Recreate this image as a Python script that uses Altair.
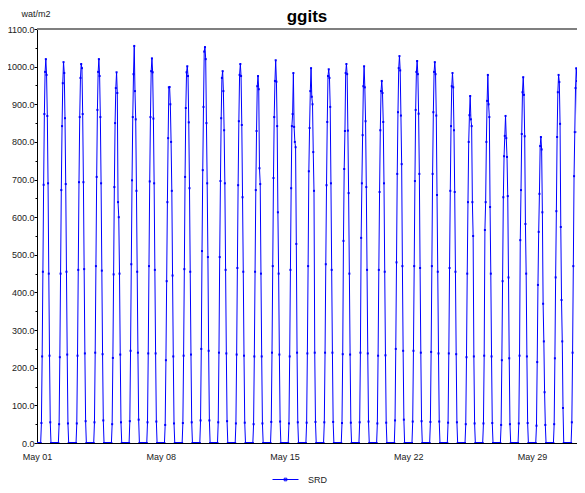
import altair as alt
import pandas as pd

# SRD (W/m2): hourly values 06:00..18:00 for each day May 1..31
# (night hours are 0)
day_values = [
    [53, 230, 455, 686, 874, 986, 1020, 978, 869, 690, 450, 232, 55],
    [50, 228, 450, 672, 842, 956, 1012, 983, 863, 688, 455, 235, 52],
    [52, 232, 460, 693, 866, 970, 1007, 996, 874, 693, 462, 238, 58],
    [55, 240, 470, 707, 885, 986, 1020, 975, 866, 690, 458, 236, 60],
    [50, 226, 448, 680, 850, 943, 985, 930, 640, 600, 450, 235, 55],
    [58, 245, 475, 698, 866, 980, 1055, 935, 860, 670, 455, 240, 62],
    [55, 238, 470, 695, 866, 988, 1022, 985, 862, 690, 460, 238, 57],
    [48, 220, 430, 640, 810, 945, 946, 900, 800, 670, 445, 230, 52],
    [53, 232, 462, 707, 890, 985, 1001, 975, 852, 677, 455, 235, 55],
    [60, 250, 510, 725, 893, 1040, 1052, 1020, 850, 690, 494, 245, 60],
    [55, 240, 494, 696, 863, 970, 988, 935, 831, 690, 460, 238, 58],
    [52, 235, 465, 685, 855, 978, 1007, 975, 845, 653, 455, 232, 54],
    [50, 230, 455, 672, 829, 948, 975, 940, 730, 688, 450, 230, 52],
    [56, 240, 470, 704, 866, 962, 1017, 960, 842, 613, 450, 235, 57],
    [52, 230, 460, 677, 842, 874, 983, 840, 800, 786, 529, 240, 55],
    [54, 238, 470, 722, 837, 935, 996, 920, 900, 773, 670, 240, 56],
    [55, 240, 475, 685, 853, 975, 993, 970, 893, 690, 460, 240, 56],
    [53, 236, 537, 728, 829, 983, 1007, 980, 830, 664, 450, 235, 54],
    [55, 240, 545, 690, 818, 948, 1001, 945, 855, 680, 460, 238, 57],
    [52, 232, 460, 667, 831, 935, 962, 930, 853, 690, 455, 233, 54],
    [60, 250, 480, 715, 879, 996, 1028, 990, 870, 741, 470, 245, 62],
    [57, 245, 470, 696, 885, 986, 1015, 980, 875, 715, 465, 240, 58],
    [56, 242, 470, 715, 879, 986, 1012, 980, 870, 659, 455, 238, 57],
    [54, 238, 465, 670, 842, 948, 983, 945, 831, 667, 455, 236, 55],
    [50, 228, 450, 640, 800, 871, 922, 860, 842, 640, 550, 230, 52],
    [52, 232, 566, 640, 800, 909, 978, 900, 866, 627, 450, 230, 53],
    [48, 220, 430, 653, 762, 816, 869, 810, 760, 656, 440, 225, 50],
    [52, 232, 539, 672, 821, 932, 972, 925, 815, 582, 450, 230, 53],
    [46, 215, 420, 561, 662, 789, 813, 780, 613, 370, 270, 135, 48],
    [50, 225, 440, 616, 813, 932, 978, 959, 848, 574, 380, 270, 93],
    [55, 240, 470, 709, 826, 943, 996, 962, 826, 675, 460, 240, 58],
]
first_daylight_hour = 6
series_name = "SRD"
y_tick_values = [0, 50, 100, 150, 200, 250, 300, 350, 400, 450, 500, 550,
                 600, 650, 700, 750, 800, 850, 900, 950, 1000, 1050, 1100]
x_label_days = [1, 8, 15, 22, 29]

rows = []
for d, vals in enumerate(day_values):
    for h in range(24):
        i = h - first_daylight_hour
        v = vals[i] if 0 <= i < len(vals) else 0
        rows.append({"time": f"2015-05-{d + 1:02d}T{h:02d}:00:00", "srd": v, "series": series_name})
df = pd.DataFrame(rows)

FONT = "Liberation Sans"

x_enc = alt.X(
    "time:T",
    scale=alt.Scale(domain=[alt.DateTime(year=2015, month=5, date=1, hours=0),
                            alt.DateTime(year=2015, month=5, date=31, hours=13)]),
    axis=alt.Axis(
        values=[alt.DateTime(year=2015, month=5, date=d) for d in x_label_days],
        format="%b %d", title=None, ticks=False, grid=False, labelAngle=0,
        labelFont=FONT, labelFontSize=9, labelColor="#222222", labelPadding=9,
        domainColor="#000000", domainWidth=1, labelFlush=False, labelOverlap=False,
    ),
)
y_enc = alt.Y(
    "srd:Q",
    scale=alt.Scale(domain=[0, 1100], nice=False),
    axis=alt.Axis(
        values=y_tick_values,
        labelExpr="datum.value % 100 === 0 ? format(datum.value, '.1f') : ''",
        tickSize={"condition": {"test": "datum.value % 100 === 0", "value": 3}, "value": 2},
        tickColor="#000000", domainColor="#000000", grid=False,
        labelFont=FONT, labelFontSize=9, labelColor="#222222", labelPadding=0,
        labelOverlap=False, labelFlush=False,
        title="wat/m2", titleAngle=0, titleAlign="left", titleBaseline="alphabetic",
        titleX=-16, titleY=-13, titleFont=FONT, titleFontSize=9, titleFontWeight="normal",
        titleColor="#222222",
    ),
)

legend = alt.Legend(
    title=None, orient="none", legendX=235, legendY=437,
    symbolType="M-1,0H1M-0.1,-0.1H0.1V0.1H-0.1Z", symbolSize=676, symbolStrokeWidth=1,
    labelFont=FONT, labelFontSize=9, labelColor="#222222", labelOffset=9, padding=0,
)

base = alt.Chart(df).encode(x=x_enc, y=y_enc)

line = base.mark_line(strokeWidth=1, clip=True).encode(
    color=alt.Color("series:N", scale=alt.Scale(domain=[series_name], range=["#0000ff"]), legend=legend),
)
points = base.mark_point(shape="square", filled=True, size=4, opacity=1, clip=True).encode(
    color=alt.value("#0000ff"),
)
# grey frame line along the top edge of the plot
top_rule = alt.Chart(df).mark_rule(color="#7f7f7f", strokeWidth=1.5).encode(y=alt.value(0))

chart = alt.layer(line, points, top_rule).properties(
    width=540, height=414,
    title=alt.TitleParams(text="ggits", font=FONT, fontSize=17, fontWeight="bold",
                          anchor="middle", frame="group", offset=-17, color="#000000"),
    autosize=alt.AutoSizeParams(type="none"),
    padding={"left": 29, "top": 21, "right": 0, "bottom": 42},
).configure_view(stroke=None).configure(background="white")

chart.save("out.html", embed_options={"renderer": "svg", "actions": False})
